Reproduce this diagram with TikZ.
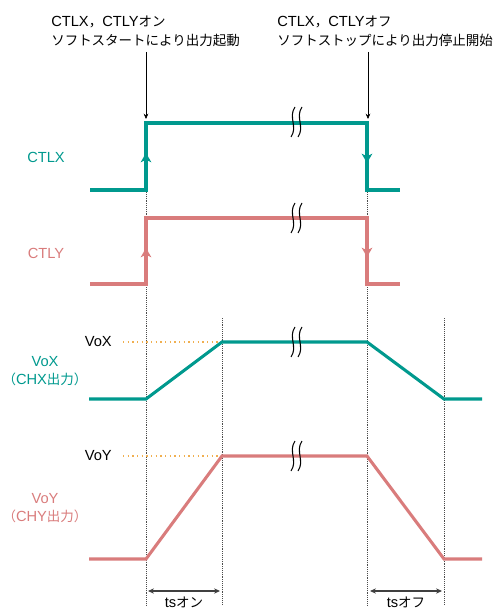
\documentclass[tikz,border=0pt]{standalone}
\usepackage{fontspec}
\setmainfont{Liberation Sans}
\newfontfamily\jp{Noto Sans CJK JP}[Scale=0.92]
\usetikzlibrary{arrows.meta}
\definecolor{tealc}{RGB}{0,153,142}
\definecolor{pinkc}{RGB}{217,124,124}
\definecolor{orangec}{RGB}{240,175,80}
\tikzset{
  sig/.style={line width=2.3pt, line join=miter},
  grid/.style={densely dotted, line width=0.4pt, black!70},
  guide/.style={line width=1.1pt, orangec, dash pattern=on 1.1pt off 2.4pt},
  midtip/.style={-{Stealth[length=7pt,width=8pt,inset=2pt]}},
  ptr/.style={line width=0.5pt, -{Stealth[length=4pt,width=3.5pt]}},
  dim/.style={line width=0.8pt, black!75, {Stealth[length=4.5pt,width=4pt]}-{Stealth[length=4.5pt,width=4pt]}},
  lbl/.style={font=\fontsize{11}{13}\selectfont, inner sep=0pt},
  brk/.style={line width=0.8pt, black}
}
\newcommand{\brkmark}[2]{%
  \draw[brk] (#1+1,#2-15) .. controls (#1-6,#2-5) and (#1+4,#2+5) .. (#1-3,#2+15);
  \draw[brk] (#1+8,#2-15) .. controls (#1+1,#2-5) and (#1+11,#2+5) .. (#1+4,#2+15);
}
\begin{document}
\begin{tikzpicture}[x=0.75pt,y=-0.75pt]
\useasboundingbox (0,0) rectangle (496,609);
% dotted grid lines
\coordinate (g1t) at (146,123); \coordinate (g1b) at (146,605);
\coordinate (g2t) at (222,318); \coordinate (g2b) at (222,605);
\coordinate (g3t) at (367,123); \coordinate (g3b) at (367,605);
\coordinate (g4t) at (444,318); \coordinate (g4b) at (444,605);
\draw[grid] (g1t) -- (g1b);
\draw[grid] (g2t) -- (g2b);
\draw[grid] (g3t) -- (g3b);
\draw[grid] (g4t) -- (g4b);
% top annotations
\node[lbl, anchor=west] (ton1) at (51,22) {CTLX{\jp ，}CTLY{\jp オン}};
\node[lbl, anchor=west] (ton2) at (51,40) {\jp ソフトスタートにより出力起動};
\node[lbl, anchor=west] (toff1) at (277,22) {CTLX{\jp ，}CTLY{\jp オフ}};
\node[lbl, anchor=west] (toff2) at (277,40) {\jp ソフトストップにより出力停止開始};
\coordinate (p1s) at (146,52); \coordinate (p1e) at (146,119);
\coordinate (p2s) at (368,52); \coordinate (p2e) at (368,119);
\draw[ptr] (p1s) -- (p1e);
\draw[ptr] (p2s) -- (p2e);
% left labels
\node[lbl, text=tealc] (lx) at (46,157) {CTLX};
\node[lbl, text=pinkc] (ly) at (46,253) {CTLY};
\node[lbl, text=tealc, align=center] (lvx) at (45,371) {VoX\\[1pt]{\jp （}CHX{\jp 出力）}};
\node[lbl, text=pinkc, align=center] (lvy) at (45,508) {VoY\\[1pt]{\jp （}CHY{\jp 出力）}};
\node[lbl, anchor=east] (vox) at (112,342) {VoX};
\node[lbl, anchor=east] (voy) at (112,456) {VoY};
% guides
\draw[guide] (123,342) -- (220,342);
\draw[guide] (123,456) -- (220,456);
% CTLX
\draw[sig, tealc] (90,190) -- (146,190) -- (146,123) -- (367,123) -- (367,190) -- (400,190);
\draw[sig, tealc, midtip] (146,175) -- (146,153);
\draw[sig, tealc, midtip] (367,140) -- (367,163);
% CTLY
\draw[sig, pinkc] (90,284) -- (146,284) -- (146,218) -- (367,218) -- (367,284) -- (400,284);
\draw[sig, pinkc, midtip] (146,270) -- (146,248);
\draw[sig, pinkc, midtip] (367,235) -- (367,257);
% VoX
\draw[sig, tealc] (89,399) -- (146,399) -- (222,342) -- (367,342) -- (444,399) -- (482,399);
% VoY
\draw[sig, pinkc] (89,559) -- (146,559) -- (222,456) -- (367,456) -- (444,559) -- (482,559);
% breaks
\brkmark{294}{122}
\brkmark{294}{218}
\brkmark{294}{342}
\brkmark{294}{456}
% ts dims
\coordinate (d1a) at (148,591); \coordinate (d1b) at (220,591);
\coordinate (d2a) at (370,591); \coordinate (d2b) at (442,591);
\draw[dim] (d1a) -- (d1b);
\draw[dim] (d2a) -- (d2b);
\node[lbl] (tson) at (184,602) {ts{\jp オン}};
\node[lbl] (tsoff) at (406,602) {ts{\jp オフ}};
\end{tikzpicture}
\end{document}
